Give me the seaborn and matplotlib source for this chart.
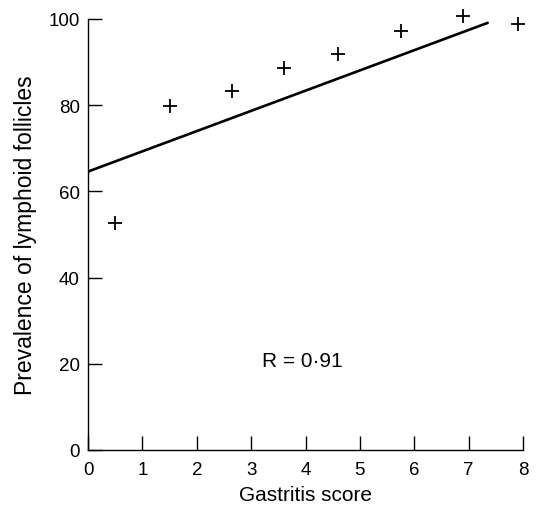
import numpy as np
import matplotlib
matplotlib.use("Agg")
import matplotlib.pyplot as plt
import seaborn as sns

# dati
gastritis_score = [0.5, 1.5, 2.65, 3.6, 4.6, 5.75, 6.9, 7.9]
prevalence = [52.7, 79.9, 83.4, 88.6, 91.8, 97.1, 100.6, 98.8]

# retta di regressione (estremi come nel grafico)
fit_x = [0.0, 7.35]
fit_y = [64.6, 99.1]

x_ticks = [0, 1, 2, 3, 4, 5, 6, 7, 8]
y_ticks = [0, 20, 40, 60, 80, 100]

sns.set_style("ticks", {'text.color': 'black', 'axes.labelcolor': 'black',
                        'xtick.color': 'black', 'ytick.color': 'black'})
plt.rcParams['font.family'] = ['Liberation Sans', 'DejaVu Sans']

fig = plt.figure(figsize=(5.42, 5.10), dpi=100)
ax = fig.add_axes([0.1624, 0.1157, 0.8026, 0.8451])

sns.scatterplot(x=gastritis_score, y=prevalence, marker='+', s=110,
                color='black', linewidth=1.3, ax=ax, clip_on=False, zorder=3)
sns.lineplot(x=fit_x, y=fit_y, color='black', linewidth=1.9, ax=ax)

ax.set_xlim(0, 8)
ax.set_ylim(0, 100)
ax.set_xticks(x_ticks)
ax.set_yticks(y_ticks)
ax.tick_params(direction='in', length=10, width=1.0, colors='black',
               labelsize=13.5)
ax.tick_params(axis='x', pad=8)
ax.tick_params(axis='y', pad=6)

for s in ['top', 'right']:
    ax.spines[s].set_visible(False)
for s in ['left', 'bottom']:
    ax.spines[s].set_linewidth(1.0)
    ax.spines[s].set_color('black')

ax.set_xlabel('Gastritis score', fontsize=15, labelpad=5, color='black')
ax.set_ylabel('Prevalence of lymphoid follicles', fontsize=16.5, labelpad=8,
              color='black')

ax.text(3.95, 20.7, 'R = 0·91', fontsize=15, ha='center', va='center',
        color='black')

fig.savefig('out.png', dpi=100, facecolor='white')
